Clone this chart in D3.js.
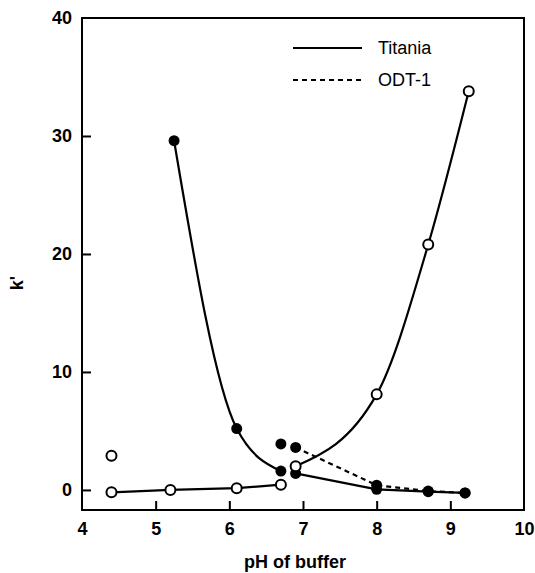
<!DOCTYPE html>
<html>
<head>
<meta charset="utf-8">
<script src="https://cdn.jsdelivr.net/npm/d3@7"></script>
<style>
  body { margin: 0; background: #fff; }
  svg text { font-family: "Liberation Sans", Arial, sans-serif; fill: #000; }
</style>
</head>
<body>
<div id="chart"></div>
<script>
// k' vs pH
var xTicks = [4, 5, 6, 7, 8, 9, 10];
var yTicks = [0, 10, 20, 30, 40];

// filled symbols
var titaniaFilledLow = [[5.25, 29.6], [6.1, 5.2], [6.7, 1.6]];
var titaniaFilledHigh = [[6.9, 1.4], [8.0, 0.05], [8.7, -0.15], [9.2, -0.25]];
var odtFilled = [[6.9, 3.6], [8.0, 0.4], [8.7, -0.1], [9.2, -0.25]];
var odtFilledLone = [[6.7, 3.9]];

// open symbols
var titaniaOpenLow = [[4.4, -0.2], [5.2, 0], [6.1, 0.15], [6.7, 0.45]];
var titaniaOpenHigh = [[6.9, 2.0], [8.0, 8.1], [8.7, 20.8], [9.25, 33.8]];
var odtOpenLone = [[4.4, 2.9]];

var legendItems = ["Titania", "ODT-1"];

var width = 535, height = 573;
var plotL = 82, plotR = 524, plotT = 18, plotB = 510;

var svg = d3.select("#chart").append("svg")
  .attr("width", width)
  .attr("height", height);

var x = d3.scaleLinear().domain([4, 10]).range([plotL, plotR]);
var y = d3.scaleLinear().domain([-1.7, 40]).range([plotB, plotT]);

// axes, ticks inward
var xAxis = d3.axisBottom(x).tickValues(xTicks).tickSizeInner(-9).tickSizeOuter(0).tickPadding(12).tickFormat(d3.format("d"));
var yAxis = d3.axisLeft(y).tickValues(yTicks).tickSizeInner(-9).tickSizeOuter(0).tickPadding(10).tickFormat(d3.format("d"));

var gx = svg.append("g").attr("transform", "translate(0," + plotB + ")").call(xAxis);
var gy = svg.append("g").attr("transform", "translate(" + plotL + ",0)").call(yAxis);
[gx, gy].forEach(function(g) {
  g.select(".domain").remove();
  g.selectAll("line").attr("stroke", "#000").attr("stroke-width", 2);
  g.selectAll("text").attr("font-size", 18).attr("font-weight", "bold")
    .style("font-family", "'Liberation Sans', Arial, sans-serif");
});
gx.selectAll(".tick").filter(function(d) { return d === 4 || d === 10; }).select("line").remove();
gy.selectAll(".tick").filter(function(d) { return d === 40; }).select("line").remove();

svg.append("rect")
  .attr("x", plotL).attr("y", plotT)
  .attr("width", plotR - plotL).attr("height", plotB - plotT)
  .attr("fill", "none").attr("stroke", "#000").attr("stroke-width", 2);

// axis titles
svg.append("text")
  .attr("x", (plotL + plotR) / 2 - 8).attr("y", 568)
  .attr("text-anchor", "middle")
  .attr("font-size", 18).attr("font-weight", "bold")
  .text("pH of buffer");

svg.append("text")
  .attr("transform", "translate(23,283) rotate(-90)")
  .attr("text-anchor", "middle")
  .attr("font-size", 18).attr("font-weight", "bold")
  .text("k'");

// lines
var smooth = d3.line().x(function(d) { return x(d[0]); }).y(function(d) { return y(d[1]); }).curve(d3.curveMonotoneX);
var straight = d3.line().x(function(d) { return x(d[0]); }).y(function(d) { return y(d[1]); });

function path(data, gen, dashed) {
  svg.append("path")
    .datum(data)
    .attr("d", gen)
    .attr("fill", "none")
    .attr("stroke", "#000")
    .attr("stroke-width", 2.2)
    .attr("stroke-dasharray", dashed ? "5,4" : null);
}
path(titaniaFilledLow, smooth);
path(titaniaFilledHigh, straight);
path(odtFilled, straight, true);
path(titaniaOpenLow, straight);
path(titaniaOpenHigh, smooth);

// markers
function dots(data, open) {
  svg.append("g").selectAll("circle")
    .data(data).enter().append("circle")
    .attr("cx", function(d) { return x(d[0]); })
    .attr("cy", function(d) { return y(d[1]); })
    .attr("r", open ? 5 : 5.5)
    .attr("fill", open ? "#fff" : "#000")
    .attr("stroke", "#000")
    .attr("stroke-width", open ? 2 : 0);
}
dots(odtFilled, false);
dots(odtFilledLone, false);
dots(titaniaFilledLow, false);
dots(titaniaFilledHigh, false);
dots(titaniaOpenLow, true);
dots(titaniaOpenHigh, true);
dots(odtOpenLone, true);

// legend
var lg = svg.append("g");
legendItems.forEach(function(name, i) {
  var ly = 48 + i * 32;
  lg.append("line")
    .attr("x1", 293).attr("x2", 362).attr("y1", ly).attr("y2", ly)
    .attr("stroke", "#000").attr("stroke-width", 2)
    .attr("stroke-dasharray", i === 1 ? "5,4" : null);
  lg.append("text")
    .attr("x", 378).attr("y", ly).attr("dy", "0.36em")
    .attr("font-size", 18)
    .text(name);
});
</script>
</body>
</html>
